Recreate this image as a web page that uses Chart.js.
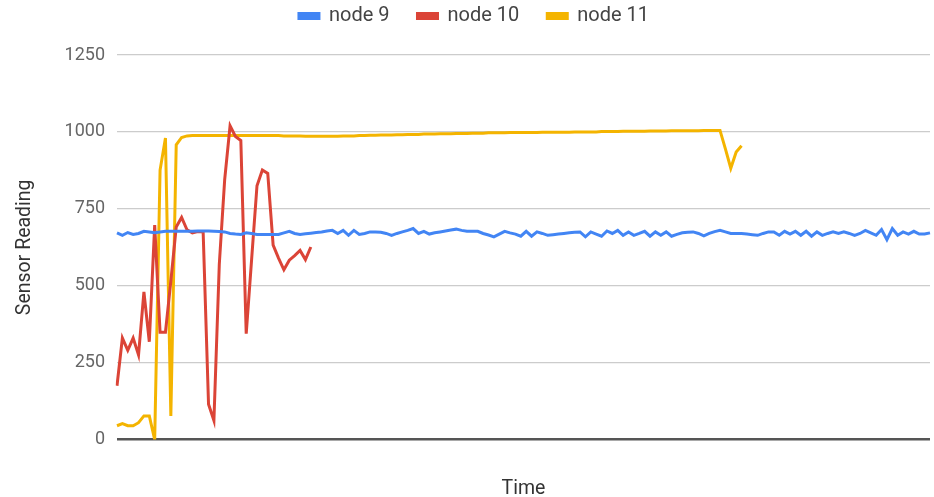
<!DOCTYPE html>
<html>
<head>
<meta charset="utf-8">
<script src="https://cdn.jsdelivr.net/npm/chart.js@4.4.1/dist/chart.umd.min.js"></script>
<style>
  html, body { margin: 0; padding: 0; background: #fff; }
  #wrap { width: 934px; height: 497px; }
</style>
</head>
<body>
<div id="wrap"><canvas id="chart"></canvas></div>
<script>
/* sensor readings, one sample per time step (152 steps) */
const node9 = [
  672, 664, 673, 667, 670, 677, 675, 672, 675, 677,
  677, 677, 677, 677, 677, 678, 678, 678, 677, 676,
  675, 670, 668, 667, 672, 670, 667, 667, 667, 667,
  667, 672, 677, 670, 667, 669, 671, 673, 675, 678,
  680, 670, 680, 664, 680, 667, 670, 675, 675, 674,
  670, 664, 670, 675, 680, 686, 670, 677, 668, 672,
  675, 678, 681, 684, 680, 677, 677, 677, 670, 665,
  659, 668, 677, 672, 668, 661, 677, 661, 675, 670,
  664, 666, 668, 670, 672, 674, 675, 659, 675, 668,
  661, 678, 670, 680, 664, 675, 664, 670, 677, 661,
  675, 664, 675, 661, 667, 672, 674, 675, 670, 662,
  670, 676, 680, 675, 670, 670, 670, 668, 666, 664,
  670, 675, 675, 664, 677, 668, 677, 664, 677, 661,
  675, 664, 670, 675, 670, 675, 670, 664, 670, 680,
  672, 664, 683, 650, 686, 664, 675, 668, 677, 668,
  668, 672
];
const node10 = [
  175, 330, 290, 330, 275, 480, 318, 697, 349, 349,
  515, 691, 722, 682, 672, 676, 675, 115, 62, 570,
  845, 1020, 985, 972, 344, 585, 825, 876, 865, 632,
  590, 552, 583, 598, 615, 585, 626
];
const node11 = [
  45, 52, 45, 45, 55, 77, 77, 0, 876, 980,
  77, 958, 982, 987, 988, 988, 988, 988, 988, 988,
  988, 988, 988, 988, 988, 988, 988, 988, 988, 988,
  988, 987, 987, 987, 987, 986, 986, 986, 986, 986,
  986, 986, 987, 987, 987, 988, 988, 989, 989, 990,
  990, 990, 991, 991, 992, 992, 992, 993, 993, 993,
  994, 994, 994, 995, 995, 995, 996, 996, 996, 997,
  997, 997, 997, 998, 998, 998, 998, 998, 998, 999,
  999, 999, 999, 999, 999, 1000, 1000, 1000, 1000, 1000,
  1001, 1001, 1001, 1001, 1002, 1002, 1002, 1002, 1002, 1003,
  1003, 1003, 1003, 1004, 1004, 1004, 1004, 1004, 1004, 1005,
  1005, 1005, 1005, 945, 882, 935, 955
];
const timeSteps = node9.map((_, i) => i);
const yTicks = [0, 250, 500, 750, 1000, 1250];

const FONT = "Roboto";

// fixed legend band height, legend drawn a bit higher than chart.js puts it
const legendTweak = {
  id: "legendTweak",
  beforeInit(chart) {
    const lg = chart.legend;
    const fit = lg.fit, draw = lg.draw;
    lg.fit = function () { fit.call(this); this.height = 55; };
    lg.draw = function () {
      this.ctx.save();
      this.ctx.translate(9, -22);
      draw.call(this);
      this.ctx.restore();
    };
  }
};

new Chart(document.getElementById("chart"), {
  type: "line",
  data: {
    labels: timeSteps,
    datasets: [
      { label: "node 9",  data: node9,  borderColor: "#4285F4", backgroundColor: "#4285F4" },
      { label: "node 10", data: node10, borderColor: "#DB4437", backgroundColor: "#DB4437" },
      { label: "node 11", data: node11, borderColor: "#F4B400", backgroundColor: "#F4B400" }
    ]
  },
  options: {
    responsive: true,
    maintainAspectRatio: false,
    animation: false,
    layout: { padding: { top: 0, right: 4, bottom: 0, left: 0 } },
    elements: {
      line: { borderWidth: 3, tension: 0 },
      point: { radius: 0 }
    },
    plugins: {
      tooltip: { enabled: false },
      legend: {
        position: "top",
        labels: {
          boxWidth: 20, boxHeight: 5, padding: 28,
          color: "#444",
          font: { family: FONT, size: 20 }
        }
      }
    },
    scales: {
      x: {
        type: "category",
        offset: false,
        grid: { display: false, drawTicks: false },
        border: { display: false },
        ticks: { display: false },
        title: {
          display: true, text: "Time", color: "#333",
          font: { family: FONT, size: 19.5 },
          padding: { top: 38, bottom: -4 }
        }
      },
      y: {
        min: 0, max: 1250,
        afterBuildTicks(scale) { scale.ticks = yTicks.map(v => ({ value: v })); },
        afterFit(scale) { scale.width = 117; },
        grid: {
          drawTicks: false,
          color: c => c.tick && c.tick.value === 0 ? "#555" : "#ccc",
          lineWidth: c => c.tick && c.tick.value === 0 ? 2.5 : 1.2
        },
        border: { display: false },
        ticks: {
          padding: 12, color: "#666",
          font: { family: FONT, size: 18 },
          callback: v => String(v)
        },
        title: {
          display: true, text: "Sensor Reading", color: "#333",
          font: { family: FONT, size: 19.5 },
          padding: { top: 13, bottom: 0 }
        }
      }
    }
  },
  plugins: [legendTweak]
});
</script>
</body>
</html>
